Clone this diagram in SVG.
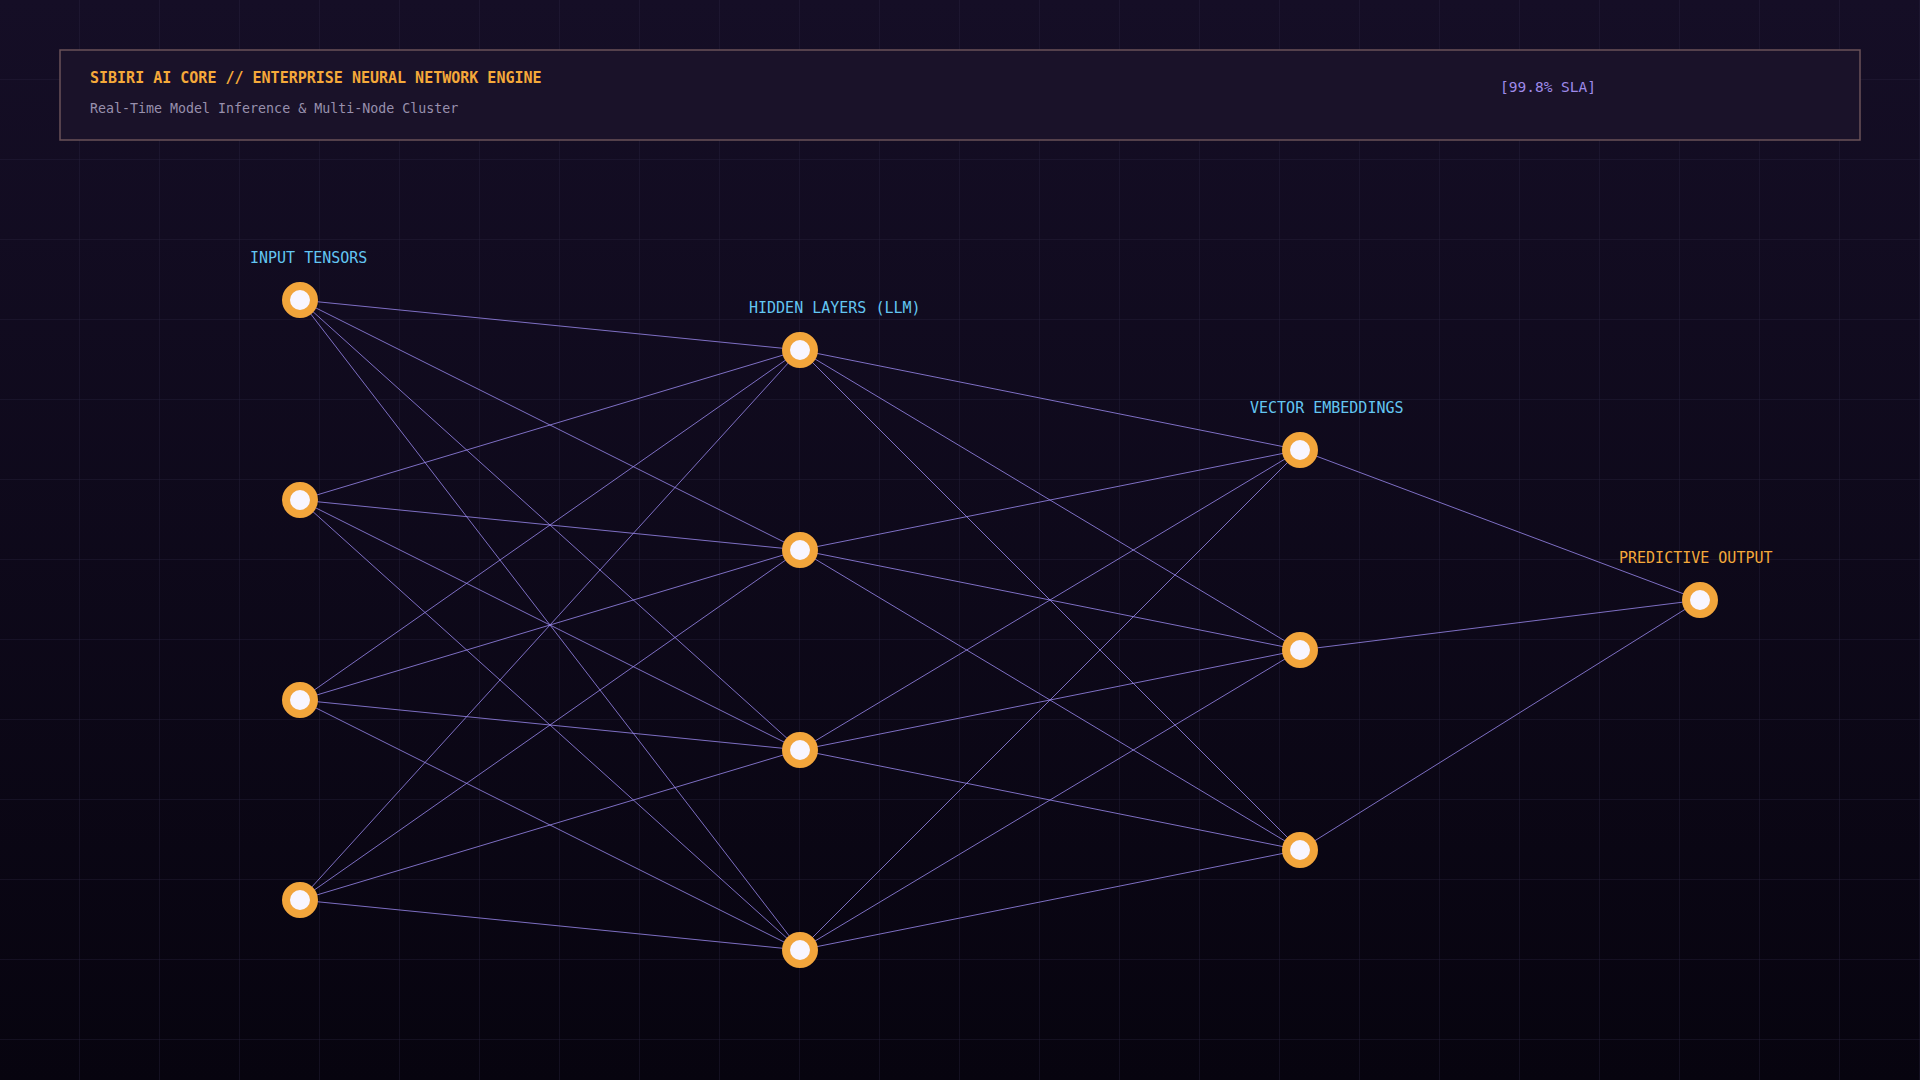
<svg xmlns="http://www.w3.org/2000/svg" width="1920" height="1080" viewBox="0 0 1920 1080">
  <defs>
    <linearGradient id="bg" x1="0" y1="0" x2="0" y2="1">
      <stop offset="0" stop-color="#150e26"/>
      <stop offset="1" stop-color="#07040f"/>
    </linearGradient>
    <pattern id="grid" x="0" y="0" width="80" height="80" patternUnits="userSpaceOnUse">
      <path d="M80 0 V80 M0 80 H80" fill="none" stroke="#2a2340" stroke-width="1" opacity="0.7"/>
    </pattern>
    <style>
      .mono { font-family: "DejaVu Sans Mono", "Liberation Mono", monospace; }
      .title { fill: #f5a93a; font-size: 15px; font-weight: 600; }
      .sub { fill: #9890ad; font-size: 13.3px; }
      .sla { fill: #9f8aea; font-size: 14.5px; }
      .label { fill: #63c6f2; font-size: 15px; }
      .label-out { fill: #f5a93a; font-size: 15px; }
      .edge { stroke: #9a88ee; stroke-width: 1; opacity: 0.8; fill: none; }
      .node { fill: #f8f6ff; stroke: #f2a53b; stroke-width: 8; }
    </style>
  </defs>

  <rect x="0" y="0" width="1920" height="1080" fill="url(#bg)"/>
  <rect x="0" y="0" width="1920" height="1080" fill="url(#grid)"/>

  <g id="header">
    <rect x="60" y="50" width="1800" height="90" fill="#1a1229" stroke="#6a5258" stroke-width="1.5"/>
    <text class="mono title" x="90" y="83">SIBIRI AI CORE // ENTERPRISE NEURAL NETWORK ENGINE</text>
    <text class="mono sub" x="90" y="113">Real-Time Model Inference &amp; Multi-Node Cluster</text>
    <text class="mono sla" x="1500" y="92">[99.8% SLA]</text>
  </g>

  <g id="connectors">
    <!-- input -> hidden -->
    <line class="edge" x1="300" y1="300" x2="800" y2="350"/>
    <line class="edge" x1="300" y1="300" x2="800" y2="550"/>
    <line class="edge" x1="300" y1="300" x2="800" y2="750"/>
    <line class="edge" x1="300" y1="300" x2="800" y2="950"/>
    <line class="edge" x1="300" y1="500" x2="800" y2="350"/>
    <line class="edge" x1="300" y1="500" x2="800" y2="550"/>
    <line class="edge" x1="300" y1="500" x2="800" y2="750"/>
    <line class="edge" x1="300" y1="500" x2="800" y2="950"/>
    <line class="edge" x1="300" y1="700" x2="800" y2="350"/>
    <line class="edge" x1="300" y1="700" x2="800" y2="550"/>
    <line class="edge" x1="300" y1="700" x2="800" y2="750"/>
    <line class="edge" x1="300" y1="700" x2="800" y2="950"/>
    <line class="edge" x1="300" y1="900" x2="800" y2="350"/>
    <line class="edge" x1="300" y1="900" x2="800" y2="550"/>
    <line class="edge" x1="300" y1="900" x2="800" y2="750"/>
    <line class="edge" x1="300" y1="900" x2="800" y2="950"/>
    <!-- hidden -> vector -->
    <line class="edge" x1="800" y1="350" x2="1300" y2="450"/>
    <line class="edge" x1="800" y1="350" x2="1300" y2="650"/>
    <line class="edge" x1="800" y1="350" x2="1300" y2="850"/>
    <line class="edge" x1="800" y1="550" x2="1300" y2="450"/>
    <line class="edge" x1="800" y1="550" x2="1300" y2="650"/>
    <line class="edge" x1="800" y1="550" x2="1300" y2="850"/>
    <line class="edge" x1="800" y1="750" x2="1300" y2="450"/>
    <line class="edge" x1="800" y1="750" x2="1300" y2="650"/>
    <line class="edge" x1="800" y1="750" x2="1300" y2="850"/>
    <line class="edge" x1="800" y1="950" x2="1300" y2="450"/>
    <line class="edge" x1="800" y1="950" x2="1300" y2="650"/>
    <line class="edge" x1="800" y1="950" x2="1300" y2="850"/>
    <!-- vector -> output -->
    <line class="edge" x1="1300" y1="450" x2="1700" y2="600"/>
    <line class="edge" x1="1300" y1="650" x2="1700" y2="600"/>
    <line class="edge" x1="1300" y1="850" x2="1700" y2="600"/>
  </g>

  <g id="labels">
    <text class="mono label" x="250" y="263">INPUT TENSORS</text>
    <text class="mono label" x="749" y="313">HIDDEN LAYERS (LLM)</text>
    <text class="mono label" x="1250" y="413">VECTOR EMBEDDINGS</text>
    <text class="mono label-out" x="1619" y="563">PREDICTIVE OUTPUT</text>
  </g>

  <g id="input-1"><circle class="node" cx="300" cy="300" r="14"/></g>
  <g id="input-2"><circle class="node" cx="300" cy="500" r="14"/></g>
  <g id="input-3"><circle class="node" cx="300" cy="700" r="14"/></g>
  <g id="input-4"><circle class="node" cx="300" cy="900" r="14"/></g>
  <g id="hidden-1"><circle class="node" cx="800" cy="350" r="14"/></g>
  <g id="hidden-2"><circle class="node" cx="800" cy="550" r="14"/></g>
  <g id="hidden-3"><circle class="node" cx="800" cy="750" r="14"/></g>
  <g id="hidden-4"><circle class="node" cx="800" cy="950" r="14"/></g>
  <g id="vector-1"><circle class="node" cx="1300" cy="450" r="14"/></g>
  <g id="vector-2"><circle class="node" cx="1300" cy="650" r="14"/></g>
  <g id="vector-3"><circle class="node" cx="1300" cy="850" r="14"/></g>
  <g id="output-1"><circle class="node" cx="1700" cy="600" r="14"/></g>
</svg>
